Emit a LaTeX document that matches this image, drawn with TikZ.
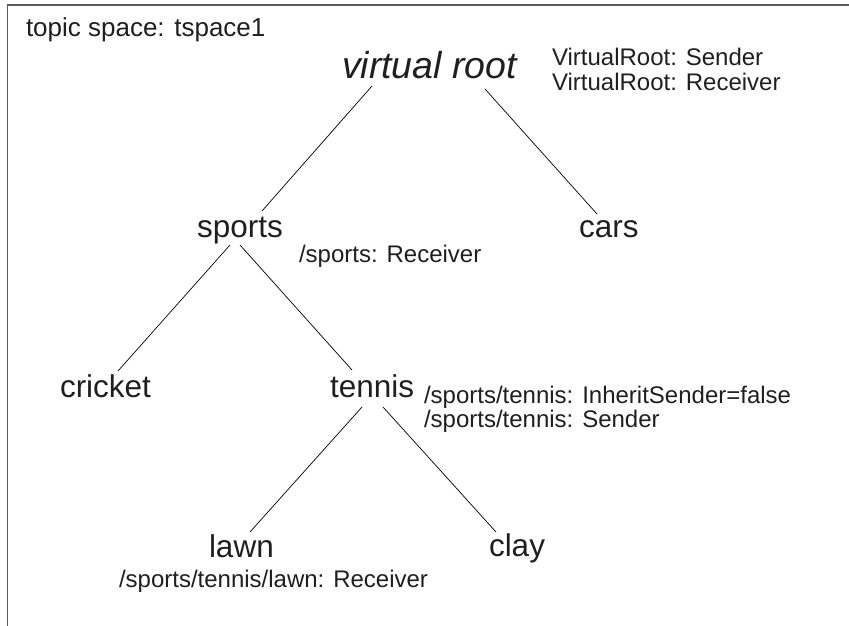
\documentclass[tikz,border=0pt]{standalone}
\usepackage{fontspec}
\setmainfont{Liberation Sans}
\usetikzlibrary{calc}
\begin{document}
\begin{tikzpicture}[x=1pt,y=-1pt,
  every node/.style={inner sep=0pt,outer sep=0pt,anchor=base west,text=black!88},
  topicnode/.style={font=\fontsize{31.5}{31.5}\selectfont},
  rootnode/.style={font=\fontsize{37.5}{37.5}\selectfont\itshape},
  info/.style={font=\fontsize{24}{24}\selectfont},
  edge/.style={draw=black,line width=0.7pt},
  frame/.style={draw=black!65,line width=1.4pt}]
\useasboundingbox (0,0) rectangle (849,626);
\draw[frame] (7.5,626) -- (7.5,5) -- (849,5);
\node[info,font=\fontsize{26}{26}\selectfont] (title) at (26,37) {topic space: tspace1};
\node[rootnode] (vr) at (342,79) {virtual root};
\node[info] (vrs) at (552,66) {VirtualRoot: Sender};
\node[info] (vrr) at (552,90) {VirtualRoot: Receiver};
\node[topicnode] (sports) at (197,237) {sports};
\node[info] (sportsl) at (299,262) {/sports: Receiver};
\node[topicnode] (cars) at (579,237) {cars};
\node[topicnode] (cricket) at (60,397) {cricket};
\node[topicnode] (tennis) at (330,397) {tennis};
\node[info] (tennisa) at (424,403) {/sports/tennis: InheritSender=false};
\node[info] (tennisb) at (424,427) {/sports/tennis: Sender};
\node[topicnode] (lawn) at (209,557) {lawn};
\node[info] (lawnl) at (119,587) {/sports/tennis/lawn: Receiver};
\node[topicnode] (clay) at (489,556) {clay};
\draw[edge] ($(vr.base west)+(30,7)$) -- ($(sports.base west)+(65,-26)$);
\draw[edge] ($(vr.base west)+(143,10)$) -- ($(cars.base west)+(18,-23)$);
\draw[edge] ($(sports.base west)+(33,8)$) -- ($(cricket.base west)+(58,-26)$);
\draw[edge] ($(sports.base west)+(43,8)$) -- ($(tennis.base west)+(22,-27)$);
\draw[edge] ($(tennis.base west)+(32,10)$) -- ($(lawn.base west)+(41,-25)$);
\draw[edge] ($(tennis.base west)+(53,10)$) -- ($(clay.base west)+(7,-24)$);
\end{tikzpicture}
\end{document}
